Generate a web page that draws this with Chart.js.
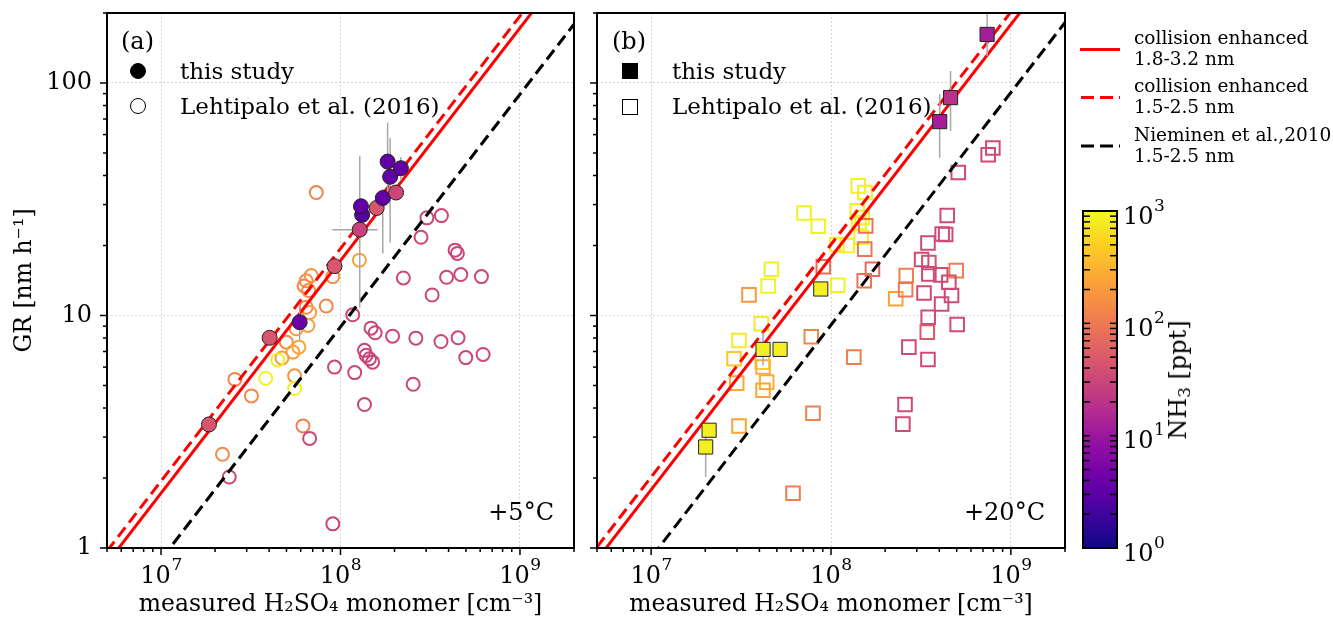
<!DOCTYPE html>
<html>
<head>
<meta charset="utf-8">
<script src="https://cdn.jsdelivr.net/npm/chart.js@4.4.0/dist/chart.umd.min.js"></script>
<style>
  body { margin: 0; background: #fff; width: 1333px; height: 619px; overflow: hidden; position: relative; font-family: 'DejaVu Serif', serif; color: #000; }
  .box { position: absolute; top: 0; }
  .t { position: absolute; transform: translateY(-50%); white-space: nowrap; font-size: 23px; line-height: 1; }
  .mk { position: absolute; box-sizing: border-box; }
  .circ { width: 16px; height: 16px; border-radius: 50%; border: 1.5px solid #000; }
  .sq { width: 16px; height: 16px; border: 1.5px solid #000; }
  .fill { background: #000; }
  .lg { position: absolute; font-size: 18.5px; line-height: 21px; white-space: nowrap; }
  sub { font-size: 70%; vertical-align: -0.25em; line-height: 0; }
</style>
</head>
<body>
<div class="box" style="left:0;width:590px"><canvas id="panelA" width="590" height="619"></canvas></div>
<div class="box" style="left:583px;width:497px"><canvas id="panelB" width="497" height="619"></canvas></div>
<div class="box" style="left:1075px;width:258px"><canvas id="cbar" width="258" height="619"></canvas></div>

<!-- panel (a) annotations -->
<div class="t" style="left:121px;top:41px;font-size:24px">(a)</div>
<div class="mk circ fill" style="left:130px;top:63px"></div>
<div class="t" style="left:180px;top:71px">this study</div>
<div class="mk circ" style="left:130px;top:98px"></div>
<div class="t" style="left:180px;top:106px">Lehtipalo et al. (2016)</div>
<div class="t" style="right:779px;top:512px;font-size:24px">+5°C</div>

<!-- panel (b) annotations -->
<div class="t" style="left:612px;top:41px;font-size:24px">(b)</div>
<div class="mk sq fill" style="left:622px;top:63px"></div>
<div class="t" style="left:672px;top:71px">this study</div>
<div class="mk sq" style="left:622px;top:99px"></div>
<div class="t" style="left:672px;top:106px">Lehtipalo et al. (2016)</div>
<div class="t" style="right:288px;top:512px;font-size:24px">+20°C</div>

<!-- line legend -->
<svg style="position:absolute;left:1075px;top:0" width="60" height="170">
  <line x1="5" y1="49.5" x2="45" y2="49.5" stroke="#ff0000" stroke-width="3"/>
  <line x1="6" y1="97.5" x2="45" y2="97.5" stroke="#ff0000" stroke-width="3" stroke-dasharray="13 6"/>
  <line x1="6" y1="146" x2="45" y2="146" stroke="#000" stroke-width="3" stroke-dasharray="13 6"/>
</svg>
<div class="lg" style="left:1134px;top:27px">collision enhanced<br>1.8-3.2 nm</div>
<div class="lg" style="left:1134px;top:75px">collision enhanced<br>1.5-2.5 nm</div>
<div class="lg" style="left:1134px;top:124px">Nieminen et al.,2010<br>1.5-2.5 nm</div>

<div style="position:absolute;left:1178px;top:380px;transform:translate(-50%,-50%) rotate(-90deg);font-size:24px;white-space:nowrap">NH<sub>3</sub> [ppt]</div>

<script>
// axis ranges and tick labels
const xMin = 5e6, xMax = 2e9, yMin = 1, yMax = 200;
const xMajorTicks = [1e7, 1e8, 1e9];
const xTickExps = ['7', '8', '9'];
const yMajorTicks = [1, 10, 100];
const yTickLabels = ['1', '10', '100'];
const cbMajorTicks = [1, 10, 100, 1000];
const cbTickExps = ['0', '1', '2', '3'];

// model lines, GR at the two ends of the H2SO4 range
const lineH2SO4 = [5e6, 2e9];
const aLineColl18 = [0.86, 345];
const aLineColl15 = [0.97, 388];
const aLineNieminen = [0.446, 179];
const bLineColl18 = [0.89, 357];
const bLineColl15 = [1.01, 404];
const bLineNieminen = [0.455, 182];

// (a) +5 C, this study
const aStudyH2SO4 = [1.85e7, 4.03e7, 5.92e7, 9.26e7, 1.28e8, 1.32e8, 1.30e8, 1.59e8, 1.72e8, 2.04e8, 1.89e8, 1.83e8, 2.17e8];
const aStudyGR    = [3.40, 8.02, 9.36, 16.3, 23.4, 27.1, 29.5, 29.0, 32.0, 33.8, 39.5, 45.9, 43.0];
const aStudyNH3   = [45, 45, 4, 45, 28, 2.8, 3.5, 45, 3.5, 32, 3.5, 3.5, 3.5];
const aStudyGRlo  = [null, null, 7.8, null, 10.8, null, null, null, 18.5, null, 20.6, 31, 38];
const aStudyGRhi  = [null, null, 11.0, null, 48.6, null, null, null, 35, null, 58, 67.6, 48];
const aStudyXlo   = [null, null, null, null, 9.0e7, null, null, null, null, null, null, null, null];
const aStudyXhi   = [null, null, null, null, 1.61e8, null, null, null, null, null, null, null, null];

// (a) +5 C, Lehtipalo et al. (2016)
const aLitH2SO4 = [7.33e7, 1.275e8, 9.06e7, 6.87e7, 6.44e7, 6.27e7, 6.64e7, 8.33e7, 6.44e7, 6.73e7, 6.58e7, 5.67e7, 4.99e7, 5.86e7, 5.43e7, 4.72e7, 2.58e7, 3.19e7, 5.55e7, 6.18e7, 2.20e7,
  4.47e7, 3.83e7, 5.55e7,
  3.03e8, 3.65e8, 2.81e8, 4.35e8, 4.48e8, 2.24e8, 3.90e8, 4.68e8, 6.10e8, 3.24e8, 1.17e8, 1.48e8, 1.56e8, 1.95e8, 2.63e8, 3.63e8, 4.52e8, 4.99e8, 6.23e8, 1.36e8, 1.39e8, 1.45e8, 1.51e8, 9.26e7, 1.20e8, 2.54e8, 1.36e8, 6.73e7, 2.40e7, 9.06e7];
const aLitGR = [33.8, 17.3, 14.7, 14.85, 14.1, 13.4, 12.8, 10.98, 10.85, 10.3, 9.06, 8.77, 7.68, 7.31, 6.96, 6.56, 5.31, 4.51, 5.50, 3.35, 2.53,
  6.44, 5.37, 4.85,
  26.3, 26.9, 21.7, 19.1, 18.5, 14.5, 14.6, 15.0, 14.7, 12.25, 10.07, 8.82, 8.43, 8.15, 7.99, 7.73, 8.02, 6.59, 6.80, 7.08, 6.74, 6.52, 6.30, 6.00, 5.68, 5.06, 4.14, 2.96, 2.02, 1.27];
const aLitNH3 = [120, 230, 160, 180, 160, 140, 150, 130, 150, 200, 220, 200, 140, 250, 220, 200, 130, 140, 170, 120, 140,
  800, 900, 900,
  32, 32, 30, 30, 30, 32, 30, 30, 32, 30, 30, 30, 30, 32, 30, 32, 30, 30, 32, 30, 30, 30, 30, 32, 30, 30, 30, 32, 30, 30];

// (b) +20 C, this study
const bStudyH2SO4 = [7.38e8, 4.62e8, 4.02e8, 8.77e7, 4.19e7, 5.21e7, 2.10e7, 2.01e7];
const bStudyGR    = [161.8, 86.5, 68.2, 13.0, 7.15, 7.15, 3.21, 2.72];
const bStudyNH3   = [12, 19, 12, 850, 850, 850, 850, 850];
const bStudyGRlo  = [130.6, 62.2, 47.7, null, 6.10, null, null, 2.02];
const bStudyGRhi  = [215, 112.6, 89.7, null, 8.48, null, null, 3.0];

// (b) +20 C, Lehtipalo et al. (2016)
const bLitH2SO4 = [1.418e8, 1.545e8, 7.08e7, 8.50e7, 1.40e8, 1.49e8, 1.43e8, 1.47e8, 1.23e8, 1.08e8, 4.66e7, 4.47e7, 1.09e8, 4.10e7, 3.08e7,
  2.89e7, 4.15e7,
  4.19e7, 2.99e7, 4.39e7, 4.19e7, 3.08e7, 3.50e7, 2.29e8,
  1.56e8, 1.54e8, 9.06e7, 1.70e8, 1.53e8, 7.77e7, 1.34e8, 7.94e7, 6.15e7, 4.97e8, 2.62e8, 2.60e8,
  7.94e8, 7.48e8, 5.10e8, 4.43e8, 4.15e8, 4.34e8, 3.46e8, 3.19e8, 3.50e8, 3.50e8, 4.07e8, 4.52e8, 3.29e8, 4.68e8, 4.12e8, 3.47e8, 5.03e8, 3.43e8, 2.71e8, 3.46e8, 2.58e8, 2.51e8];
const bLitGR = [36.1, 33.8, 27.6, 24.2, 28.2, 26.4, 25.1, 21.7, 20.0, 20.2, 15.8, 13.4, 13.5, 9.21, 7.81,
  6.52, 6.30,
  6.00, 5.12, 5.17, 4.77, 3.35, 12.27, 11.8,
  24.3, 19.3, 16.2, 15.8, 14.1, 8.10, 6.62, 3.80, 1.72, 15.6, 14.85, 12.9,
  52.5, 49.1, 41.2, 26.9, 22.4, 22.3, 20.5, 17.4, 16.9, 15.1, 14.95, 13.9, 12.5, 12.2, 11.2, 9.83, 9.15, 8.48, 7.31, 6.47, 4.14, 3.41];
const bLitNH3 = [900, 850, 900, 900, 900, 850, 900, 900, 900, 900, 850, 900, 900, 850, 800,
  450, 500,
  300, 250, 280, 250, 230, 180, 220,
  90, 90, 80, 70, 90, 130, 110, 120, 110, 110, 110, 100,
  35, 35, 35, 35, 35, 35, 35, 35, 40, 35, 35, 35, 35, 35, 35, 35, 35, 50, 35, 35, 35, 35];

// plasma colormap, log-normalised 1..1000 ppt
const plasmaStops = ['#0d0887', '#41049d', '#6a00a8', '#8f0da4', '#b12a90', '#cc4778', '#e16462', '#f2844b', '#fca636', '#fcce25', '#f0f921'];
function hexRgb(h) { return [1, 3, 5].map(i => parseInt(h.substr(i, 2), 16)); }
function plasma(t) {
  t = Math.max(0, Math.min(1, t));
  const f = t * (plasmaStops.length - 1);
  const i = Math.min(Math.floor(f), plasmaStops.length - 2);
  const a = hexRgb(plasmaStops[i]), b = hexRgb(plasmaStops[i + 1]);
  const k = f - i;
  return 'rgb(' + a.map((v, j) => Math.round(v + (b[j] - v) * k)).join(',') + ')';
}
const nh3Color = v => plasma(Math.log10(v) / 3);

function logTicks(min, max) {
  const out = [];
  for (let e = Math.floor(Math.log10(min)); e <= Math.ceil(Math.log10(max)); e++) {
    for (let m = 1; m < 10; m++) {
      const v = m * Math.pow(10, e);
      if (v >= min * 0.999 && v <= max * 1.001) out.push(v);
    }
  }
  return out;
}
const isMajor = (v, majors) => majors.some(m => Math.abs(v / m - 1) < 1e-6);
const labelFor = (majors, labels) => v => {
  const i = majors.findIndex(m => Math.abs(v / m - 1) < 1e-6);
  return i >= 0 ? labels[i] : '';
};
const pts = (xs, ys) => xs.map((x, i) => ({ x: x, y: ys[i] }));
const noPad = s => { s.paddingTop = 0; s.paddingBottom = 0; s.paddingLeft = 0; s.paddingRight = 0; };

Chart.defaults.font.family = "'DejaVu Serif', serif";
Chart.defaults.color = '#000';

// tick marks + frame
const decor = {
  id: 'decor',
  afterDraw(chart, args, opts) {
    const { ctx, chartArea: ca } = chart;
    ctx.save();
    ctx.strokeStyle = '#000';
    ctx.lineWidth = 1.5;
    opts.marks.forEach(m => {
      const sc = chart.scales[m.axis];
      sc.ticks.forEach(t => {
        const len = isMajor(t.value, m.majors) ? opts.majorLen : opts.minorLen;
        const p = sc.getPixelForValue(t.value);
        const d = m.out ? 1 : -1;
        ctx.beginPath();
        if (m.side === 'bottom') { ctx.moveTo(p, ca.bottom); ctx.lineTo(p, ca.bottom + d * len); }
        if (m.side === 'left') { ctx.moveTo(ca.left, p); ctx.lineTo(ca.left - d * len, p); }
        if (m.side === 'right') { ctx.moveTo(ca.right, p); ctx.lineTo(ca.right + d * len, p); }
        ctx.stroke();
      });
    });
    ctx.lineWidth = 2;
    ctx.strokeRect(ca.left, ca.top, ca.width, ca.height);
    ctx.restore();
  }
};

// "10^n" tick labels with a raised exponent
const expLabels = {
  id: 'expLabels',
  afterDraw(chart, args, opts) {
    const { ctx, chartArea: ca } = chart;
    const sc = chart.scales[opts.axis];
    const big = '24px "DejaVu Serif"', small = '17px "DejaVu Serif"';
    ctx.save();
    ctx.fillStyle = '#000';
    ctx.textBaseline = 'alphabetic';
    ctx.textAlign = 'left';
    opts.majors.forEach((v, i) => {
      const p = sc.getPixelForValue(v);
      ctx.font = big;
      const wb = ctx.measureText('10').width;
      ctx.font = small;
      const ws = ctx.measureText(opts.exps[i]).width;
      let x0, yb;
      if (opts.side === 'bottom') { x0 = p - (wb + ws) / 2; yb = ca.bottom + 35; }
      else { x0 = ca.right + 6; yb = p + 12.7; }
      ctx.font = big;
      ctx.fillText('10', x0, yb);
      ctx.font = small;
      ctx.fillText(opts.exps[i], x0 + wb + 0.5, yb - 13);
    });
    ctx.restore();
  }
};

// error bars, drawn just before the dataset that carries them
const errbars = {
  id: 'errbars',
  beforeDatasetDraw(chart, args) {
    const ds = chart.data.datasets[args.index];
    if (!ds.errLo) return;
    const { ctx, chartArea: ca, scales: { x, y } } = chart;
    ctx.save();
    ctx.beginPath();
    ctx.rect(ca.left, ca.top, ca.width, ca.height);
    ctx.clip();
    ctx.strokeStyle = '#a8a8a8';
    ctx.lineWidth = 1.5;
    ds.data.forEach((p, i) => {
      const px = x.getPixelForValue(p.x), py = y.getPixelForValue(p.y);
      if (ds.errLo[i] != null) {
        ctx.beginPath();
        ctx.moveTo(px, y.getPixelForValue(ds.errLo[i]));
        ctx.lineTo(px, y.getPixelForValue(ds.errHi[i]));
        ctx.stroke();
      }
      if (ds.errXLo && ds.errXLo[i] != null) {
        ctx.beginPath();
        ctx.moveTo(x.getPixelForValue(ds.errXLo[i]), py);
        ctx.lineTo(x.getPixelForValue(ds.errXHi[i]), py);
        ctx.stroke();
      }
    });
    ctx.restore();
  }
};

function xScale() {
  return {
    type: 'logarithmic', min: xMin, max: xMax, bounds: 'data',
    afterBuildTicks: s => { s.ticks = logTicks(xMin, xMax).map(v => ({ value: v })); },
    afterFit: s => { s.height = 71; noPad(s); },
    ticks: { autoSkip: false, maxRotation: 0, callback: () => '' },
    grid: { drawTicks: false, lineWidth: 1, color: c => (c.tick && isMajor(c.tick.value, xMajorTicks)) ? '#d6d6d6' : 'rgba(0,0,0,0)' },
    border: { display: false, dash: [2, 2] },
    title: { display: true, text: 'measured H₂SO₄ monomer [cm⁻³]', font: { size: 23.5 }, padding: 0 }
  };
}
function yScale(width, withLabels) {
  return {
    type: 'logarithmic', min: yMin, max: yMax, bounds: 'data',
    afterBuildTicks: s => { s.ticks = logTicks(yMin, yMax).map(v => ({ value: v })); },
    afterFit: s => { s.width = width; noPad(s); },
    ticks: { autoSkip: false, padding: 15, font: { size: 24 }, callback: withLabels ? labelFor(yMajorTicks, yTickLabels) : () => '' },
    grid: { drawTicks: false, lineWidth: 1, color: c => (c.tick && isMajor(c.tick.value, yMajorTicks)) ? '#d6d6d6' : 'rgba(0,0,0,0)' },
    border: { display: false, dash: [2, 2] },
    title: { display: withLabels, text: 'GR [nm h⁻¹]', font: { size: 23.5 }, padding: 0 }
  };
}

function lineSet(ys, color, dash) {
  return { type: 'scatter', data: pts(lineH2SO4, ys), showLine: true, pointRadius: 0, borderColor: color, borderWidth: 3, borderDash: dash, fill: false, order: 2 };
}

function panel(id, pad, yWidth, withLabels, shape, study, lit, lines) {
  const openR = shape === 'circle' ? 6.5 : 9.6;
  const filledR = shape === 'circle' ? 7.5 : 10;
  return new Chart(document.getElementById(id), {
    type: 'scatter',
    data: {
      datasets: [
        {
          data: pts(study.x, study.y), pointStyle: shape, pointRadius: filledR, pointBorderWidth: 1,
          pointBackgroundColor: study.nh3.map(nh3Color), pointBorderColor: '#222', order: 1,
          errLo: study.lo, errHi: study.hi, errXLo: study.xlo, errXHi: study.xhi
        },
        lineSet(lines[0], '#ff0000', []),
        lineSet(lines[1], '#ff0000', [12, 6]),
        lineSet(lines[2], '#000000', [12, 6]),
        {
          data: pts(lit.x, lit.y), pointStyle: shape, pointRadius: openR, pointBorderWidth: 2,
          pointBackgroundColor: 'rgba(0,0,0,0)', pointBorderColor: lit.nh3.map(nh3Color), order: 3
        }
      ]
    },
    options: {
      responsive: false, animation: false, devicePixelRatio: 1, events: [],
      layout: { padding: pad },
      scales: { x: xScale(), y: yScale(yWidth, withLabels) },
      plugins: {
        legend: { display: false }, tooltip: { enabled: false },
        decor: { majorLen: 7, minorLen: 4, marks: [
          { axis: 'x', side: 'bottom', out: true, majors: xMajorTicks },
          { axis: 'y', side: 'left', out: true, majors: yMajorTicks }
        ] },
        expLabels: { axis: 'x', side: 'bottom', majors: xMajorTicks, exps: xTickExps }
      }
    },
    plugins: [decor, errbars, expLabels]
  });
}

panel('panelA', { left: 11, right: 16, top: 13, bottom: 0 }, 96, true, 'circle',
  { x: aStudyH2SO4, y: aStudyGR, nh3: aStudyNH3, lo: aStudyGRlo, hi: aStudyGRhi, xlo: aStudyXlo, xhi: aStudyXhi },
  { x: aLitH2SO4, y: aLitGR, nh3: aLitNH3 },
  [aLineColl18, aLineColl15, aLineNieminen]);

panel('panelB', { left: 0, right: 15, top: 13, bottom: 0 }, 14, false, 'rect',
  { x: bStudyH2SO4, y: bStudyGR, nh3: bStudyNH3, lo: bStudyGRlo, hi: bStudyGRhi },
  { x: bLitH2SO4, y: bLitGR, nh3: bLitNH3 },
  [bLineColl18, bLineColl15, bLineNieminen]);

// colour bar
const cbarFill = {
  id: 'cbarFill',
  beforeDatasetsDraw(chart) {
    const { ctx, chartArea: ca } = chart;
    const g = ctx.createLinearGradient(0, ca.bottom, 0, ca.top);
    for (let i = 0; i <= 40; i++) g.addColorStop(i / 40, plasma(i / 40));
    ctx.save();
    ctx.fillStyle = g;
    ctx.fillRect(ca.left, ca.top, ca.width, ca.height);
    ctx.restore();
  }
};
new Chart(document.getElementById('cbar'), {
  type: 'scatter',
  data: { datasets: [] },
  options: {
    responsive: false, animation: false, devicePixelRatio: 1, events: [],
    layout: { padding: { left: 8, right: 0, top: 211, bottom: 71 } },
    scales: {
      x: { type: 'linear', display: false },
      y: {
        type: 'logarithmic', position: 'right', min: 1, max: 1000, bounds: 'data',
        afterBuildTicks: s => { s.ticks = logTicks(1, 1000).map(v => ({ value: v })); },
        afterFit: s => { s.width = 216; noPad(s); },
        ticks: { autoSkip: false, callback: () => '' },
        grid: { display: false, drawTicks: false },
        border: { display: false }
      }
    },
    plugins: {
      legend: { display: false }, tooltip: { enabled: false },
      decor: { majorLen: 7, minorLen: 7, marks: [
        { axis: 'y', side: 'left', out: false, majors: cbMajorTicks },
        { axis: 'y', side: 'right', out: false, majors: cbMajorTicks }
      ] },
      expLabels: { axis: 'y', side: 'right', majors: cbMajorTicks, exps: cbTickExps }
    }
  },
  plugins: [cbarFill, decor, expLabels]
});
</script>
</body>
</html>
